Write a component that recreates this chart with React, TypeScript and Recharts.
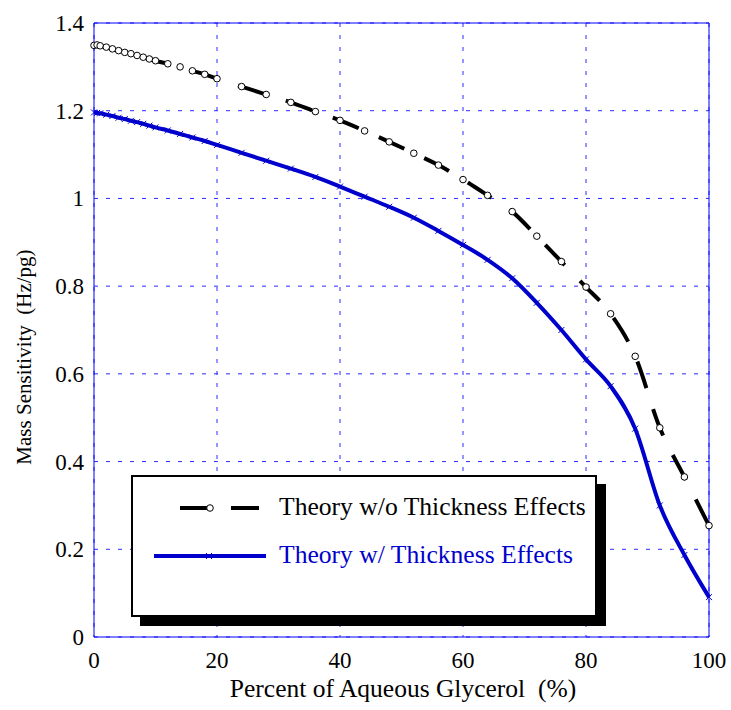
import React from 'react'
import {
  LineChart,
  Line,
  XAxis,
  YAxis,
  CartesianGrid,
  ReferenceLine,
  Legend,
} from 'recharts'

const glycerol = [
  0, 0.5, 1, 2, 3, 4, 5, 6, 7, 8, 9, 10, 12, 14, 16, 18, 20, 24, 28, 32, 36,
  40, 44, 48, 52, 56, 60, 64, 68, 72, 76, 80, 84, 88, 92, 96, 100,
]

const noThickness = [
  1.349, 1.35, 1.348, 1.345, 1.341, 1.337, 1.333, 1.33, 1.326, 1.322, 1.318,
  1.314, 1.307, 1.3, 1.291, 1.283, 1.273, 1.255, 1.237, 1.219, 1.198, 1.178,
  1.154, 1.129, 1.103, 1.076, 1.043, 1.007, 0.97, 0.914, 0.856, 0.798, 0.737,
  0.64, 0.477, 0.365, 0.254,
]

const withThickness = [
  1.196, 1.195, 1.194, 1.191, 1.188, 1.184, 1.181, 1.177, 1.174, 1.17, 1.166,
  1.162, 1.155, 1.147, 1.139, 1.131, 1.122, 1.104, 1.086, 1.068, 1.049, 1.027,
  1.004, 0.981, 0.956, 0.926, 0.894, 0.86, 0.818, 0.762, 0.7, 0.633, 0.572,
  0.475, 0.3, 0.187, 0.091,
]

const xTicks = [0, 20, 40, 60, 80, 100]
const yTicks = [0, 0.2, 0.4, 0.6, 0.8, 1, 1.2, 1.4]

const data = glycerol.map((x, i) => ({
  x,
  noThick: noThickness[i],
  withThick: withThickness[i],
}))

const FONT = '"Liberation Serif", "Times New Roman", serif'
const BLUE = '#0000cc'
const AXIS_BLUE = '#0000ff'

const CircleDot = (props: any) => {
  const { cx, cy, index } = props
  if (cx == null || cy == null) return null
  return (
    <circle key={`c-${index}`} cx={cx} cy={cy} r={3.3} fill="#fff" stroke="#000" strokeWidth={1} />
  )
}

const CrossDot = (props: any) => {
  const { cx, cy, index } = props
  if (cx == null || cy == null) return null
  const s = 3
  return (
    <g key={`x-${index}`} stroke={BLUE} strokeWidth={1}>
      <line x1={cx - s} y1={cy - s} x2={cx + s} y2={cy + s} />
      <line x1={cx - s} y1={cy + s} x2={cx + s} y2={cy - s} />
    </g>
  )
}

const XTick = (props: any) => {
  const { x, y, payload } = props
  return (
    <text x={x} y={y} dy={31} textAnchor="middle" fontFamily={FONT} fontSize={23} fill="#000">
      {payload.value}
    </text>
  )
}

const YTick = (props: any) => {
  const { x, y, payload } = props
  return (
    <text x={x} y={y} dx={-10} dy={8} textAnchor="end" fontFamily={FONT} fontSize={23} fill="#000">
      {payload.value}
    </text>
  )
}

// legend box with the hard black drop shadow
const LegendBox = () => (
  <div
    style={{
      boxSizing: 'border-box',
      width: 466,
      height: 142,
      border: '2px solid #000',
      boxShadow: '9px 9px 0 #000',
      background: '#fff',
      position: 'relative',
    }}
  >
    <svg width={462} height={138} style={{ position: 'absolute', left: 0, top: 0 }}>
      <line x1={47} y1={31} x2={77} y2={31} stroke="#000" strokeWidth={4} />
      <line x1={98} y1={31} x2={126} y2={31} stroke="#000" strokeWidth={4} />
      <circle cx={77} cy={31} r={3.3} fill="#fff" stroke="#000" strokeWidth={1} />
      <text x={146} y={38} fontFamily={FONT} fontSize={25.6} fill="#000">
        Theory w/o Thickness Effects
      </text>
      <line x1={21} y1={79} x2={133} y2={79} stroke={BLUE} strokeWidth={4} />
      <g stroke={BLUE} strokeWidth={1}>
        <line x1={73} y1={76} x2={79} y2={82} />
        <line x1={73} y1={82} x2={79} y2={76} />
      </g>
      <text x={146} y={86} fontFamily={FONT} fontSize={25.6} fill={BLUE}>
        Theory w/ Thickness Effects
      </text>
    </svg>
  </div>
)

export default function App() {
  return (
    <div style={{ position: 'absolute', left: 0, top: 0, background: '#fff' }}>
      <LineChart
        width={731}
        height={710}
        data={data}
        margin={{ top: 23, right: 22, bottom: 43, left: 34 }}
      >
        <CartesianGrid stroke="#2a2aff" strokeDasharray="4 8" strokeWidth={1} />
        <XAxis
          dataKey="x"
          type="number"
          domain={[0, 100]}
          ticks={xTicks}
          height={30}
          tickSize={0}
          tickMargin={0}
          tickLine={false}
          axisLine={{ stroke: AXIS_BLUE, strokeWidth: 1 }}
          tick={<XTick />}
          label={{
            content: () => (
              <text
                x={403}
                y={697}
                textAnchor="middle"
                fontFamily={FONT}
                fontSize={25.5}
                fill="#000"
                style={{ whiteSpace: 'pre' }}
              >
                {'Percent of Aqueous Glycerol  (%)'}
              </text>
            ),
          }}
        />
        <YAxis
          type="number"
          domain={[0, 1.4]}
          ticks={yTicks}
          width={60}
          tickSize={0}
          tickMargin={0}
          tickLine={false}
          axisLine={{ stroke: AXIS_BLUE, strokeWidth: 1 }}
          tick={<YTick />}
          label={{
            content: () => (
              <text
                transform="translate(31,357) rotate(-90)"
                textAnchor="middle"
                fontFamily={FONT}
                fontSize={21}
                fill="#000"
                style={{ whiteSpace: 'pre' }}
              >
                {'Mass Sensitivity  (Hz/pg)'}
              </text>
            ),
          }}
        />
        <ReferenceLine y={1.4} stroke={AXIS_BLUE} strokeWidth={1} />
        <ReferenceLine x={100} stroke={AXIS_BLUE} strokeWidth={1} />
        <Line
          type="monotone"
          dataKey="withThick"
          name="Theory w/ Thickness Effects"
          stroke={BLUE}
          strokeWidth={4}
          dot={CrossDot}
          activeDot={false}
          isAnimationActive={false}
        />
        <Line
          type="monotone"
          dataKey="noThick"
          name="Theory w/o Thickness Effects"
          stroke="#000"
          strokeWidth={4}
          strokeDasharray="28 22"
          dot={CircleDot}
          activeDot={false}
          isAnimationActive={false}
        />
        <Legend
          layout="horizontal"
          verticalAlign="middle"
          align="center"
          content={() => <LegendBox />}
          wrapperStyle={{ position: 'absolute', left: 131, top: 475, width: 466, height: 142 }}
        />
      </LineChart>
    </div>
  )
}
